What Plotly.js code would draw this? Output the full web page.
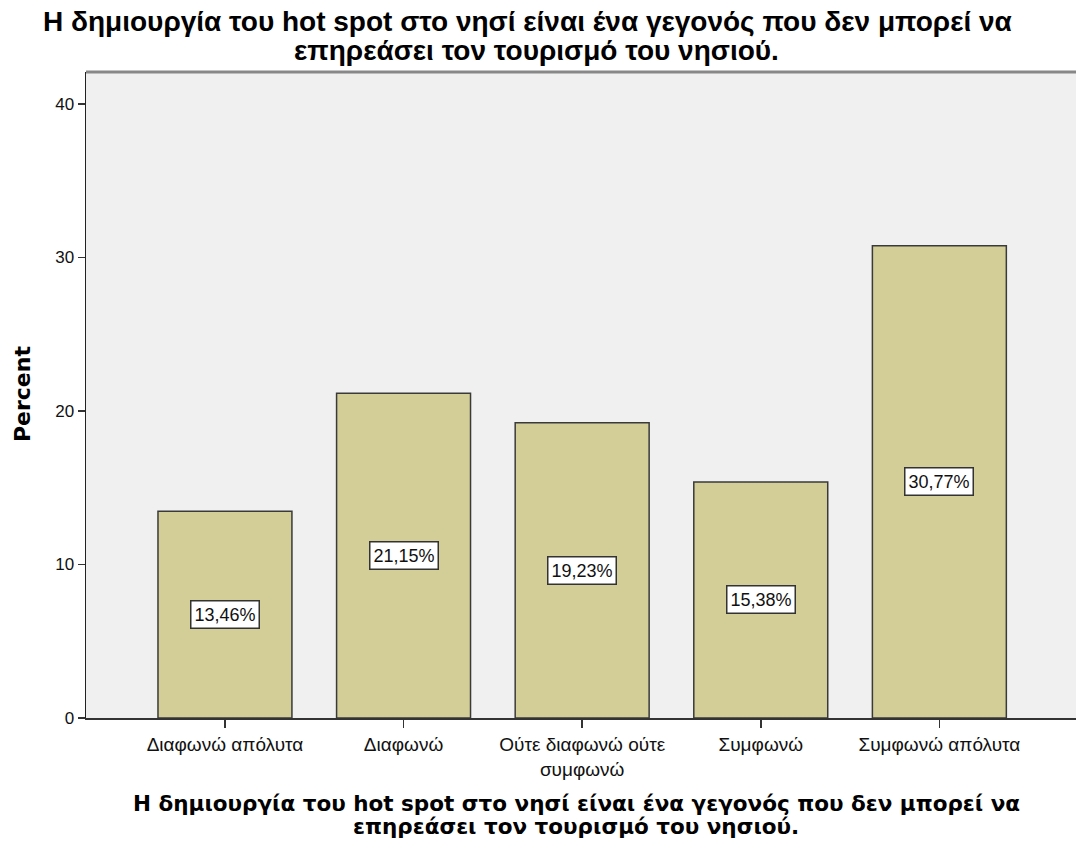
<!DOCTYPE html>
<html>
<head>
<meta charset="utf-8">
<script src="https://cdn.plot.ly/plotly-3.0.1.min.js"></script>
<style>body{margin:0;padding:0;background:#fff}#chart{width:1076px;height:843px}</style>
</head>
<body>
<div id="chart"></div>
<script>
const categories = ["Διαφωνώ απόλυτα", "Διαφωνώ", "Ούτε διαφωνώ ούτε<br>συμφωνώ", "Συμφωνώ", "Συμφωνώ απόλυτα"];
const percents = [13.46, 21.15, 19.23, 15.38, 30.77];
const labels = ["13,46%", "21,15%", "19,23%", "15,38%", "30,77%"];
const yTicks = [0, 10, 20, 30, 40];
const titleLines = ["Η δημιουργία του hot spot στο νησί είναι ένα γεγονός που δεν μπορεί να", "επηρεάσει τον τουρισμό του νησιού."];
const yTitle = "Percent";

const xIdx = categories.map((c, i) => i);

const trace = {
  type: 'bar',
  x: xIdx,
  y: percents,
  width: 0.75,
  marker: {color: '#D3CE98', line: {color: '#3a3a3a', width: 1.5}},
  hoverinfo: 'skip'
};

const annotations = percents.map((v, i) => ({
  x: i, y: v / 2, xref: 'x', yref: 'y',
  text: labels[i], showarrow: false,
  bgcolor: '#ffffff', bordercolor: '#333333', borderwidth: 1.5, borderpad: 3,
  font: {family: 'Liberation Sans, Arial, sans-serif', size: 18, color: '#111'}
}));

const TITLE_FONT = {family: 'Liberation Sans, Arial, sans-serif', size: 28, color: '#000'};
const XT_FONT = {family: 'DejaVu Sans, Verdana, sans-serif', size: 21.5, color: '#000'};
const topY = [1.0774, 1.034];
const topX = [0.446, 0.455];
const botY = [-0.1316, -0.1672];
titleLines.forEach((t, k) => {
  annotations.push({xref: 'paper', yref: 'paper', x: topX[k], y: topY[k], xanchor: 'center', yanchor: 'middle',
    text: '<b>' + t + '</b>', showarrow: false, font: TITLE_FONT});
  annotations.push({xref: 'paper', yref: 'paper', x: 0.495, y: botY[k], xanchor: 'center', yanchor: 'middle',
    text: '<b>' + t + '</b>', showarrow: false, font: XT_FONT});
});
annotations.push({xref: 'paper', yref: 'paper', x: -0.0646, y: 0.5015, xanchor: 'center', yanchor: 'middle',
  text: '<b>' + yTitle + '</b>', textangle: -90, showarrow: false,
  font: {family: 'DejaVu Sans, Verdana, sans-serif', size: 22, color: '#000'}});

const layout = {
  width: 1076, height: 843,
  margin: {l: 86, r: 0, t: 72, b: 125},
  paper_bgcolor: '#ffffff',
  plot_bgcolor: '#F0F0F0',
  showlegend: false,
  xaxis: {
    range: [-0.778, 4.765],
    tickmode: 'array', tickvals: xIdx, ticktext: categories,
    ticks: 'outside', ticklen: 8, tickcolor: '#333', tickwidth: 1.5,
    showgrid: false, zeroline: false,
    showline: true, linecolor: '#333', linewidth: 2,
    tickfont: {family: 'Liberation Sans, Arial, sans-serif', size: 19, color: '#111'}
  },
  yaxis: {
    range: [0, 42.08],
    tickmode: 'array', tickvals: yTicks,
    ticks: 'outside', ticklen: 7, tickcolor: '#333', tickwidth: 1.5,
    showgrid: false, zeroline: false,
    showline: true, linecolor: '#222', linewidth: 1.5,
    tickfont: {family: 'Liberation Sans, Arial, sans-serif', size: 17, color: '#111'}
  },
  shapes: [{
    type: 'line', xref: 'paper', yref: 'paper', x0: 0, x1: 1, y0: 1, y1: 1,
    line: {color: '#888', width: 3}
  }],
  annotations: annotations
};

Plotly.newPlot('chart', [trace], layout, {displayModeBar: false, staticPlot: true});
</script>
</body>
</html>
